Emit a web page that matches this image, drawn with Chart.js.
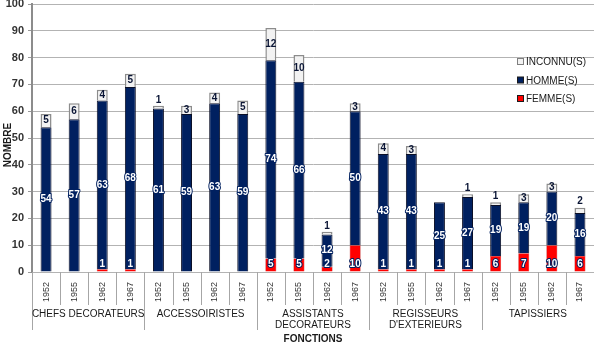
<!DOCTYPE html>
<html>
<head>
<meta charset="utf-8">
<script src="https://cdn.jsdelivr.net/npm/chart.js@4"></script>
<style>
  html, body { margin: 0; padding: 0; background: #ffffff; }
  #wrap { width: 596px; height: 344px; }
</style>
</head>
<body>
<div id="wrap"><canvas id="c" width="596" height="344"></canvas></div>
<script>
// Staff counts by job and year
const years = ['1952', '1955', '1962', '1967'];
const groups = [
  ['CHEFS DECORATEURS'],
  ['ACCESSOIRISTES'],
  ['ASSISTANTS', 'DECORATEURS'],
  ['REGISSEURS', "D'EXTERIEURS"],
  ['TAPISSIERS']
];
const femmes   = [0, 0, 1, 1,   0, 0, 0, 0,   5, 5, 2, 10,   1, 1, 1, 1,   6, 7, 10, 6];
const hommes   = [54, 57, 63, 68,   61, 59, 63, 59,   74, 66, 12, 50,   43, 43, 25, 27,   19, 19, 20, 16];
const inconnus = [5, 6, 4, 5,   1, 3, 4, 5,   12, 10, 1, 3,   4, 3, 0, 1,   1, 3, 3, 2];
const seriesNames = ['FEMME(S)', 'HOMME(S)', 'INCONNU(S)'];
const yMin = 0, yMax = 100, yStep = 10;

const NAVY = '#002060';
const RED = '#ff0000';
const GREY = '#f2f2f2';
const FONT = '"Liberation Sans", Arial, sans-serif';

// one category per (job, year)
const labels = [];
groups.forEach(() => years.forEach(y => labels.push(y)));

// value labels on each bar segment
const valueLabels = {
  id: 'valueLabels',
  afterDatasetsDraw(chart) {
    const ctx = chart.ctx;
    ctx.save();
    ctx.font = 'bold 10px ' + FONT;
    ctx.textAlign = 'center';
    ctx.textBaseline = 'middle';
    ctx.lineJoin = 'round';
    chart.data.datasets.forEach((ds, di) => {
      const meta = chart.getDatasetMeta(di);
      meta.data.forEach((bar, i) => {
        const v = ds.data[i];
        if (!v) return;
        const p = bar.getProps(['x', 'y', 'base'], true);
        let ty;
        if (di === 0) {
          ty = p.base - 7;
        } else if (di === 1) {
          ty = (p.y + p.base) / 2;
        } else {
          ty = v >= 3 ? (p.y + p.base) / 2 : p.y - 6;
        }
        const txt = String(v);
        if (di === 2) {
          ctx.fillStyle = '#0a1535';
          ctx.fillText(txt, p.x, ty);
        } else {
          ctx.lineWidth = 2;
          ctx.strokeStyle = NAVY;
          ctx.strokeText(txt, p.x, ty);
          ctx.fillStyle = '#ffffff';
          ctx.fillText(txt, p.x, ty);
        }
      });
    });
    ctx.restore();
  }
};

// job groups under the year ticks, axis titles and legend
const decorations = {
  id: 'decorations',
  afterDraw(chart) {
    const ctx = chart.ctx;
    const xs = chart.scales.x;
    const area = chart.chartArea;
    const step = (xs.getPixelForValue(1) - xs.getPixelForValue(0));
    ctx.save();
    ctx.strokeStyle = '#a6a6a6';
    ctx.lineWidth = 1;
    // separators between years and between jobs
    for (let i = 0; i < labels.length; i++) {
      const left = Math.round(xs.getPixelForValue(i) - step / 2) + 0.5;
      const isGroupEdge = i % years.length === 0;
      ctx.beginPath();
      ctx.moveTo(left, area.bottom);
      ctx.lineTo(left, isGroupEdge ? 330 : 305);
      ctx.stroke();
    }
    // job names
    ctx.fillStyle = '#1a1a1a';
    ctx.font = '10px ' + FONT;
    ctx.textAlign = 'center';
    ctx.textBaseline = 'middle';
    groups.forEach((lines, g) => {
      const a = xs.getPixelForValue(g * years.length);
      const b = xs.getPixelForValue(g * years.length + years.length - 1);
      const cx = (a + b) / 2;
      lines.forEach((ln, k) => ctx.fillText(ln, cx, 314 + k * 11));
    });
    // axis titles
    ctx.font = 'bold 10px ' + FONT;
    ctx.fillStyle = '#1a1a1a';
    ctx.fillText('FONCTIONS', (area.left + area.right) / 2, 339);
    ctx.save();
    ctx.translate(8, 145);
    ctx.rotate(-Math.PI / 2);
    ctx.fillText('NOMBRE', 0, 0);
    ctx.restore();
    // legend, top entry first
    ctx.font = '10px ' + FONT;
    ctx.textAlign = 'left';
    const items = chart.data.datasets.map((d, i) => ({ d, i })).reverse();
    items.forEach((it, k) => {
      const y = 62 + k * 18.5;
      ctx.fillStyle = it.d.backgroundColor;
      ctx.fillRect(517.5, y - 3.5, 6, 6);
      ctx.strokeStyle = it.i === 2 ? '#7f7f7f' : '#1a1a1a';
      ctx.lineWidth = 1;
      ctx.strokeRect(517.5, y - 3.5, 6, 6);
      ctx.fillStyle = '#1a1a1a';
      ctx.fillText(seriesNames[it.i], 526, y + 0.5);
    });
    ctx.restore();
  }
};

new Chart(document.getElementById('c'), {
  type: 'bar',
  data: {
    labels: labels,
    datasets: [
      { label: seriesNames[0], data: femmes, backgroundColor: RED, borderColor: '#b00000', borderWidth: 0.5 },
      { label: seriesNames[1], data: hommes, backgroundColor: NAVY, borderColor: '#0b0f26', borderWidth: 1 },
      { label: seriesNames[2], data: inconnus, backgroundColor: GREY, borderColor: '#8c8c8c', borderWidth: 1.5 }
    ]
  },
  options: {
    responsive: false,
    animation: false,
    devicePixelRatio: 1,
    layout: { padding: { top: 4, right: 2, left: 0, bottom: 0 } },
    datasets: { bar: { categoryPercentage: 1, barPercentage: 0.39 } },
    plugins: {
      legend: { display: false },
      tooltip: { enabled: false }
    },
    scales: {
      x: {
        stacked: true,
        grid: { display: false, drawTicks: false },
        border: { display: false },
        ticks: {
          autoSkip: false,
          minRotation: 90,
          maxRotation: 90,
          padding: 10,
          color: '#333333',
          font: { family: FONT, size: 9 }
        },
        afterFit(s) { s.height = 72; s.paddingLeft = 0; s.paddingRight = 0; }
      },
      y: {
        stacked: true,
        min: yMin,
        max: yMax,
        ticks: {
          stepSize: yStep,
          padding: 4,
          color: '#333333',
          font: { family: FONT, size: 11, weight: 'bold' }
        },
        grid: { color: '#b3b3b3', lineWidth: 1, tickLength: 4, tickColor: '#999999' },
        border: { display: true, color: '#8c8c8c', width: 2 },
        afterFit(s) { s.width = 32; s.paddingTop = 0; s.paddingBottom = 0; }
      }
    }
  },
  plugins: [valueLabels, decorations]
});
</script>
</body>
</html>
